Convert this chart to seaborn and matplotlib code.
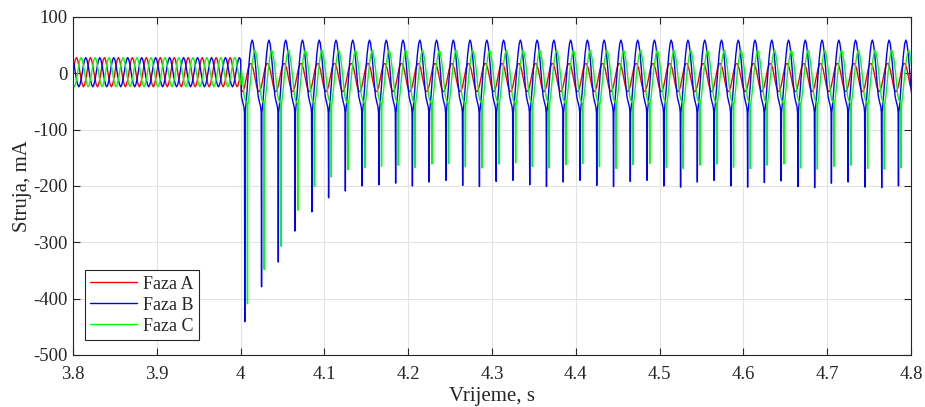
import numpy as np
import pandas as pd
import matplotlib
matplotlib.use("Agg")
import matplotlib.pyplot as plt
import seaborn as sns
from matplotlib.ticker import FuncFormatter, MultipleLocator

# --- podaci ocitani sa slike ---
# prije kvara: jedan period faze A (12 uzoraka po periodu, 60 Hz)
t_start = 3.8
t_fault = 4.0
pre_period = 1 / 60
pre_cycle_a = [2, 14, 24, 28, 24, 14, 2, -11, -20, -24, -20, -11]
pre_lag_c = 4   # uzorci kasnjenja faze C
pre_lag_b = 8   # uzorci kasnjenja faze B

# poslije kvara: 50 Hz, oblik jednog perioda relativno na trenutak pika
post_period = 0.02
first_spike_b = 4.0050
spike_delay_c = 0.0032
n_cycles = 40

shape_phase_ms = [0, 0.4, 1.5, 3, 4.5, 6, 7.5, 8.8, 10, 11.5, 13, 14.5, 16, 17.5, 19, 19.6]
shape_b = [None, -70, -54, -25, 8, 34, 53, 59, 54, 37, 11, -18, -41, -51, -60, -70]
shape_c = [None, -56, -44, -22, 2, 21, 35, 41, 37, 24, 5, -18, -39, -48, -52, -54]
red_phase_ms = [0, 2, 4, 6, 8, 10, 12, 14, 16, 18]
shape_a = [-22, -7, 8, 17, 17, 8, -7, -22, -32, -32]

spikes_b = [-441, -379, -335, -280, -246, -221, -209, -200, -198, -195,
            -200, -193, -190, -199, -201, -192, -190, -198, -201, -193,
            -190, -199, -201, -192, -190, -200, -202, -193, -190, -200,
            -202, -194, -191, -201, -203, -195, -193, -202, -203, -200]
spikes_c = [-409, -348, -307, -243, -201, -184, -171, -167, -165, -163,
            -167, -161, -160, -166, -168, -161, -159, -165, -168, -162,
            -160, -166, -169, -162, -160, -167, -169, -163, -161, -167,
            -169, -163, -161, -168, -170, -165, -163, -169, -170, -168]


def pre_series(lag):
    n = int(round((t_fault - t_start) / pre_period * 12)) + 1
    idx = (np.arange(n) - lag) % 12
    t = t_start + np.arange(n) * pre_period / 12
    return t, np.array(pre_cycle_a)[idx]


def post_series(t0, phases, shape, spikes):
    ts, vs = [], []
    for k in range(-1, n_cycles):
        depth = spikes[max(k, 0)] if spikes is not None else None
        for ph, v in zip(phases, shape):
            ts.append(t0 + k * post_period + ph / 1000)
            vs.append(depth if v is None else v)
    ts, vs = np.array(ts), np.array(vs, dtype=float)
    keep = ts >= t_fault
    return ts[keep], vs[keep]


frames = []
series = {
    "Faza A": (pre_series(0), post_series(first_spike_b, red_phase_ms, shape_a, None)),
    "Faza B": (pre_series(pre_lag_b), post_series(first_spike_b, shape_phase_ms, shape_b, spikes_b)),
    "Faza C": (pre_series(pre_lag_c), post_series(first_spike_b + spike_delay_c, shape_phase_ms, shape_c, spikes_c)),
}
for name, ((t1, v1), (t2, v2)) in series.items():
    frames.append(pd.DataFrame({"t": np.concatenate([t1, t2]),
                                "i": np.concatenate([v1, v2]),
                                "faza": name}))
df = pd.concat(frames, ignore_index=True)

sns.set_style("whitegrid")
plt.rcParams["font.family"] = ["Liberation Serif", "DejaVu Serif"]
plt.rcParams["axes.unicode_minus"] = False

fig = plt.figure(figsize=(9.25, 4.07), dpi=100)
ax = fig.add_axes([0.0789, 0.1278, 0.906, 0.8305])

sns.lineplot(
    data=df, x="t", y="i", hue="faza",
    palette={"Faza A": "#ff0000", "Faza B": "#0000ff", "Faza C": "#00ff00"},
    estimator=None, sort=False, linewidth=1.0, ax=ax)

ax.set_xlim(3.8, 4.8)
ax.set_ylim(-500, 100)
ax.xaxis.set_major_locator(MultipleLocator(0.1))
ax.yaxis.set_major_locator(MultipleLocator(100))
ax.xaxis.set_major_formatter(FuncFormatter(lambda v, p: f"{v:g}"))
ax.yaxis.set_major_formatter(FuncFormatter(lambda v, p: f"{v:g}"))
ax.tick_params(direction="in", length=5, labelsize=13.5, colors="#262626",
               top=True, right=True, bottom=True, left=True)
ax.tick_params(axis="x", pad=8)
ax.tick_params(axis="y", pad=4)
ax.grid(True, color="#e3e3e3", linewidth=0.8)
for s in ax.spines.values():
    s.set_color("#262626")
    s.set_linewidth(0.8)
ax.set_xlabel("Vrijeme, s", fontsize=15, color="#262626", labelpad=3)
ax.set_ylabel("Struja, mA", fontsize=15, color="#262626", labelpad=1)

leg = ax.legend(loc="lower left", bbox_to_anchor=(0.0143, 0.044), borderaxespad=0,
                fontsize=13, frameon=True, fancybox=False,
                edgecolor="#262626", framealpha=1, handlelength=2.6,
                borderpad=0.3, labelspacing=0.22, handletextpad=0.3)
leg.get_frame().set_linewidth(0.8)
leg.set_title(None)

fig.savefig("out.png", dpi=100)
